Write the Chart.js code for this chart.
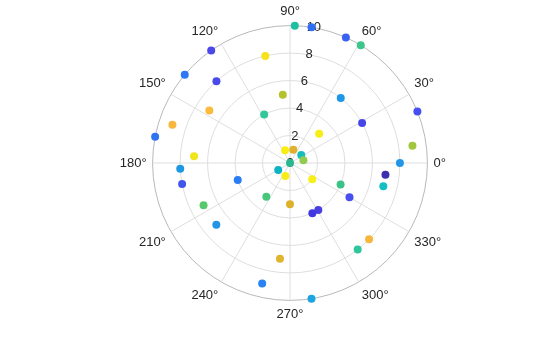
<!DOCTYPE html>
<html>
<head>
<meta charset="utf-8">
<script src="https://cdn.jsdelivr.net/npm/chart.js@4"></script>
<style>
  html, body { margin: 0; padding: 0; background: #fff; }
  #wrap { width: 560px; height: 337px; }
</style>
</head>
<body>
<div id="wrap"><canvas id="chart"></canvas></div>
<script>
// polar scatter, angle in degrees (0 = right, counterclockwise), radius 0..10
const thetaDeg = [88, 81, 66, 59, 52, 29, 22, 8, 0, 103,
                  96, 118, 45, 111, 76, 35, 12, 200, 211, 125,
                  140, 132, 147, 162, 169, 176, 183, 191, 198, 250,
                  235, 206, 220, 270, 264, 257, 353, 346, 324, 337,
                  330, 301, 294, 316, 308, 279];
const radius = [10, 10, 10, 10, 6, 6, 10, 9, 8, 8,
                5, 4, 3, 1, 1, 1, 1, 0, 1, 10,
                10, 8, 7, 9, 10, 7, 8, 8, 4, 1,
                3, 7, 7, 3, 7, 9, 7, 7, 2, 4,
                5, 4, 4, 8, 8, 10];
const pointColors = ['#1fbfa3', '#2f6ff5', '#3a62f0', '#3cc68a', '#1f96e6', '#4646e8', '#4650f0', '#a2c73c', '#2396e8', '#f5e21a',
                     '#b5c22e', '#33c79b', '#f6ee16', '#f8ee14', '#dfb12f', '#17bdbd', '#92cc4e', '#2cb88f', '#0cb3c6', '#4a48e8',
                     '#2e78f5', '#4a4aec', '#fbbb3c', '#f8b83e', '#2f74f2', '#f1e41c', '#1f98e4', '#4355ed', '#2a7df2', '#f7ec18',
                     '#46c77c', '#58c96b', '#2295e6', '#ddb22b', '#dfb52e', '#2a83f2', '#3e2fb0', '#12c0c4', '#f7ef17', '#3bc387',
                     '#4750ee', '#4a3fe0', '#4238e0', '#f7b63e', '#30c69c', '#1ea4e2'];
const rTicks = [0, 2, 4, 6, 8, 10];
const angleStep = 30;
const rLabelAngle = 80;

// one radar spoke per degree, starting at the top (90°) and running clockwise
const angleLabels = [];
for (let i = 0; i < 360; i++) angleLabels.push(((90 - i + 360) % 360) + '°');

const values = new Array(360).fill(null);
const colors = new Array(360).fill('transparent');
thetaDeg.forEach((t, k) => {
  const idx = ((90 - t) % 360 + 360) % 360;
  values[idx] = radius[k];
  colors[idx] = pointColors[k];
});

// radial tick labels drawn along the 80° line, under the points
const rLabels = {
  id: 'rLabels',
  beforeDatasetsDraw(chart) {
    const s = chart.scales.r;
    const ctx = chart.ctx;
    const a = rLabelAngle * Math.PI / 180;
    ctx.save();
    ctx.font = '13px "Liberation Sans", Arial, sans-serif';
    ctx.fillStyle = '#262626';
    ctx.textAlign = 'center';
    ctx.textBaseline = 'middle';
    rTicks.forEach(v => {
      const d = s.getDistanceFromCenterForValue(v);
      ctx.fillText(String(v), s.xCenter + d * Math.cos(a), s.yCenter - d * Math.sin(a));
    });
    ctx.restore();
  }
};

Chart.defaults.font.family = '"Liberation Sans", Arial, sans-serif';
Chart.defaults.font.size = 13;
Chart.defaults.color = '#262626';

new Chart(document.getElementById('chart'), {
  type: 'radar',
  data: {
    labels: angleLabels,
    datasets: [{
      data: values,
      showLine: false,
      pointRadius: 4,
      pointHoverRadius: 4,
      pointBorderWidth: 0,
      pointBackgroundColor: colors,
      pointBorderColor: colors
    }]
  },
  options: {
    responsive: true,
    maintainAspectRatio: false,
    animation: false,
    events: [],
    layout: { padding: { left: 20, top: 4, bottom: 14 } },
    plugins: { legend: { display: false }, tooltip: { enabled: false } },
    scales: {
      r: {
        min: 0,
        max: 10,
        startAngle: 0,
        ticks: { stepSize: 2, display: false },
        grid: {
          circular: true,
          color: c => (c.tick && c.tick.value === 10 ? '#b8b8b8' : '#dedede'),
          lineWidth: 1
        },
        angleLines: {
          color: '#dedede',
          lineWidth: c => (c.index % angleStep === 0 ? 1 : 0)
        },
        pointLabels: {
          padding: 6,
          font: { size: 13 },
          color: '#262626',
          callback: (label, i) => (i % angleStep === 0 ? label : '')
        }
      }
    }
  },
  plugins: [rLabels]
});
</script>
</body>
</html>
